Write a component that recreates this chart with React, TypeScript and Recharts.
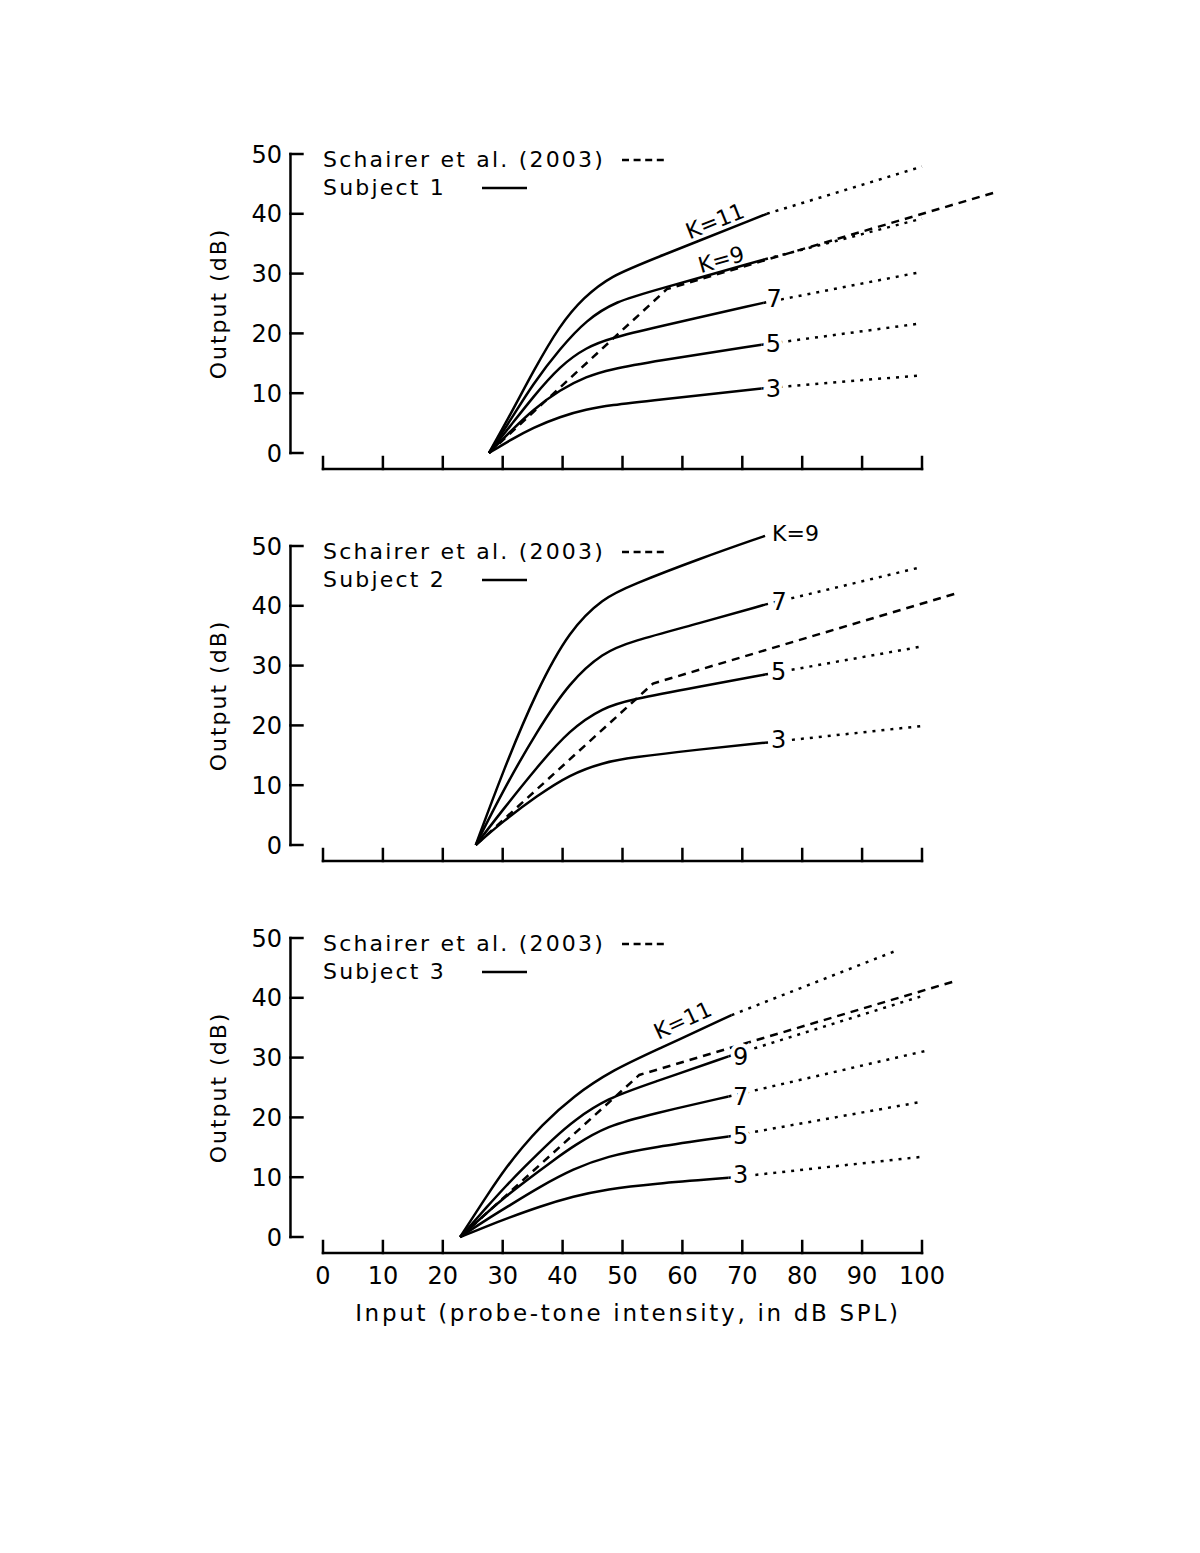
import React from "react";
import { LineChart, Line, XAxis, YAxis, ReferenceLine, Legend } from "recharts";

type Pair = [number, number];

// axis ticks
const xTicks = [0, 10, 20, 30, 40, 50, 60, 70, 80, 90, 100];
const yTicks = [0, 10, 20, 30, 40, 50];

const subjects = ["Subject 1", "Subject 2", "Subject 3"];

// Subject 1 ([input dB SPL, output dB])
const s1Schairer: Pair[] = [[27.7, 0], [57.4, 27.4], [111.9, 43.5]];
const s1K11: Pair[] = [[27.7, 0], [31.5, 6.8], [35, 13.5], [39.6, 21.5], [43.5, 26], [48, 29.6], [55, 32.4], [74.1, 40]];
const s1K11Ext: Pair[] = [[74.1, 40], [100, 47.9]];
const s1K9: Pair[] = [[27.7, 0], [31.5, 5.8], [35, 11.5], [39.6, 17.5], [44, 22.3], [49, 25.4], [55, 27.1], [73.8, 32.4]];
const s1K9Ext: Pair[] = [[73.8, 32.4], [100, 39.2]];
const s1K7: Pair[] = [[27.7, 0], [31.5, 4.8], [35, 9.3], [39.6, 14.6], [44, 17.7], [48, 19.2], [55, 20.9], [73.5, 25.1]];
const s1K7Ext: Pair[] = [[73.5, 25.1], [100, 30.3]];
const s1K5: Pair[] = [[27.7, 0], [31.5, 3.8], [35, 7.2], [39.6, 10.6], [44, 12.8], [48, 14], [55, 15.3], [73.2, 18.1]];
const s1K5Ext: Pair[] = [[73.2, 18.1], [100, 21.7]];
const s1K3: Pair[] = [[27.7, 0], [31.5, 2.3], [35, 4.2], [39.6, 6.1], [44, 7.3], [48, 8], [55, 8.8], [73.2, 10.8]];
const s1K3Ext: Pair[] = [[73.2, 10.8], [100, 13]];

// Subject 2
const s2Schairer: Pair[] = [[25.5, 0], [55.1, 27], [105.8, 42.1]];
const s2K9: Pair[] = [[25.5, 0], [30.1, 12.5], [35.7, 25.9], [41.2, 36], [46.8, 41.3], [51.3, 43.4], [62.9, 47.9], [73.8, 51.7]];
const s2K7: Pair[] = [[25.5, 0], [30.1, 9.2], [35.7, 19], [41.2, 27.3], [46.8, 32.2], [51.3, 34], [62.9, 37.1], [73.8, 40.2]];
const s2K7Ext: Pair[] = [[73.8, 40.2], [100, 46.5]];
const s2K5: Pair[] = [[25.5, 0], [30.1, 6], [35.7, 13], [41.2, 19.3], [46.8, 23], [51.3, 24.3], [62.9, 26.5], [73.8, 28.5]];
const s2K5Ext: Pair[] = [[73.8, 28.5], [100, 33.2]];
const s2K3: Pair[] = [[25.5, 0], [30.1, 4], [35.7, 8.2], [41.2, 11.8], [46.8, 13.8], [51.3, 14.6], [62.9, 16], [73.8, 17.1]];
const s2K3Ext: Pair[] = [[73.8, 17.1], [100, 19.9]];

// Subject 3
const s3Schairer: Pair[] = [[22.9, 0], [52.8, 27.1], [105.2, 42.7]];
const s3K11: Pair[] = [[22.9, 0], [27.6, 7.3], [30.7, 11.8], [33.2, 14.9], [36.2, 18.4], [41.8, 23.6], [48.5, 28], [55.7, 31.3], [68.2, 37.1]];
const s3K11Ext: Pair[] = [[68.2, 37.1], [96, 48]];
const s3K9: Pair[] = [[22.9, 0], [27.6, 5.3], [30.7, 8.7], [33.2, 11.3], [38.7, 16.7], [41.8, 19.4], [47.4, 23.2], [55, 25.8], [67.7, 30.2]];
const s3K9Ext: Pair[] = [[67.7, 30.2], [99.7, 40.2]];
const s3K7: Pair[] = [[22.9, 0], [27.6, 4.3], [30.7, 6.9], [33.2, 8.9], [38.7, 13], [41.8, 15.2], [47.4, 18.6], [55, 20.6], [67.7, 23.5]];
const s3K7Ext: Pair[] = [[67.7, 23.5], [100.5, 31.1]];
const s3K5: Pair[] = [[22.9, 0], [27.6, 3.1], [30.7, 5], [36.2, 8.4], [41.8, 11.4], [47.4, 13.5], [55, 15], [67.7, 16.8]];
const s3K5Ext: Pair[] = [[67.7, 16.8], [99.9, 22.6]];
const s3K3: Pair[] = [[22.9, 0], [27.6, 1.9], [30.7, 3.1], [36.2, 5.1], [41.8, 6.8], [47.4, 8], [55, 8.9], [67.7, 9.9]];
const s3K3Ext: Pair[] = [[67.7, 9.9], [99.9, 13.4]];

interface Curve { k: string; solid: Pair[]; ext?: Pair[] }

const panels: { subject: string; schairer: Pair[]; curves: Curve[] }[] = [
    {
        subject: subjects[0], schairer: s1Schairer, curves: [
            { k: "K=11", solid: s1K11, ext: s1K11Ext },
            { k: "K=9", solid: s1K9, ext: s1K9Ext },
            { k: "7", solid: s1K7, ext: s1K7Ext },
            { k: "5", solid: s1K5, ext: s1K5Ext },
            { k: "3", solid: s1K3, ext: s1K3Ext },
        ]
    },
    {
        subject: subjects[1], schairer: s2Schairer, curves: [
            { k: "K=9", solid: s2K9 },
            { k: "7", solid: s2K7, ext: s2K7Ext },
            { k: "5", solid: s2K5, ext: s2K5Ext },
            { k: "3", solid: s2K3, ext: s2K3Ext },
        ]
    },
    {
        subject: subjects[2], schairer: s3Schairer, curves: [
            { k: "K=11", solid: s3K11, ext: s3K11Ext },
            { k: "9", solid: s3K9, ext: s3K9Ext },
            { k: "7", solid: s3K7, ext: s3K7Ext },
            { k: "5", solid: s3K5, ext: s3K5Ext },
            { k: "3", solid: s3K3, ext: s3K3Ext },
        ]
    },
];

// where each curve's K label sits, relative to the end of the solid part
interface LabelSpot { dx: number; dy: number; angle: number; size: number; anchor?: "middle" | "start"; onExt: boolean }
const labelSpots: LabelSpot[][] = [
    [
        { dx: -52, dy: 7, angle: -21.7, size: 22, onExt: false },
        { dx: -44, dy: 0, angle: -15.7, size: 22, onExt: false },
        { dx: 11, dy: -5, angle: 0, size: 24, onExt: true },
        { dx: 12, dy: -1.5, angle: 0, size: 24, onExt: true },
        { dx: 12, dy: 0, angle: 0, size: 24, onExt: true },
    ],
    [
        { dx: 7, dy: -3, angle: 0, size: 22, anchor: "start", onExt: false },
        { dx: 14, dy: -3, angle: 0, size: 24, onExt: true },
        { dx: 13.5, dy: -3, angle: 0, size: 24, onExt: true },
        { dx: 13.5, dy: -3, angle: 0, size: 24, onExt: true },
    ],
    [
        { dx: -49, dy: 5, angle: -24.7, size: 22, onExt: false },
        { dx: 12, dy: 0, angle: 0, size: 24, onExt: true },
        { dx: 12, dy: 0, angle: 0, size: 24, onExt: true },
        { dx: 12, dy: -1.5, angle: 0, size: 24, onExt: true },
        { dx: 12, dy: -3.5, angle: 0, size: 24, onExt: true },
    ],
];

// layout
const FONT = '"DejaVu Sans", sans-serif';
const PX = 5.99; // pixels per input dB
const PY = 5.98; // pixels per output dB
const X0 = 323; // pixel of input 0
const ZERO_Y = 453; // pixel of output 0 inside each chart
const X_MIN = -6, X_MAX = 113, Y_MIN = -3, Y_MAX = 55;
const Y_AXIS_AT = -5.43, X_AXIS_AT = -2.67;
const Y_AXIS_W = 80;
const PLOT_LEFT = X0 + X_MIN * PX;
const PLOT_TOP = ZERO_Y - Y_MAX * PY;
const PLOT_W = (X_MAX - X_MIN) * PX;
const PLOT_H = (Y_MAX - Y_MIN) * PY;
const PANEL_STEP = 392;

const toPts = (a: Pair[]) => a.map(([x, y]) => ({ x, y }));

const axisStyle = { stroke: "#000", strokeWidth: 2.5, strokeLinecap: "square" as const, ifOverflow: "visible" as const };

function YTick(props: any) {
    const { x, y, payload } = props;
    return (
        <text x={x - 5} y={y} dy={8.5} textAnchor="end" fontFamily={FONT} fontSize={24} fill="#000">
            {payload.value}
        </text>
    );
}

function XTick(props: any) {
    const { x, y, payload } = props;
    return (
        <text x={x} y={y} dy={29} textAnchor="middle" fontFamily={FONT} fontSize={24} fill="#000">
            {payload.value}
        </text>
    );
}

function LegendBox({ subject }: { subject: string }) {
    const row = { position: "absolute" as const, left: 0, lineHeight: "30px", whiteSpace: "nowrap" as const };
    return (
        <div style={{ position: "relative", width: 420, height: 60, fontFamily: FONT, fontSize: 22, letterSpacing: 2.2, color: "#000" }}>
            <div style={{ ...row, top: 0 }}>Schairer et al. (2003)</div>
            <svg style={{ position: "absolute", left: 299, top: 0 }} width={46} height={30}>
                <line x1={0} y1={15} x2={42} y2={15} stroke="#000" strokeWidth={2.5} strokeDasharray="7 4.6" />
            </svg>
            <div style={{ ...row, top: 28 }}>{subject}</div>
            <svg style={{ position: "absolute", left: 159, top: 28 }} width={48} height={30}>
                <line x1={0} y1={15} x2={45} y2={15} stroke="#000" strokeWidth={2.5} />
            </svg>
        </div>
    );
}

const makeDot = (text: string, spot: LabelSpot | undefined, atIndex: number) => (props: any) => {
    const { cx, cy, index } = props;
    if (!spot || index !== atIndex || cx == null) return <g key={`d${index}`} />;
    const halo = spot.onExt;
    return (
        <g key={`d${index}`} transform={`translate(${cx + spot.dx},${cy + spot.dy}) rotate(${spot.angle})`}>
            <text
                x={0}
                y={0}
                dy="0.36em"
                textAnchor={spot.anchor ?? "middle"}
                fontFamily={FONT}
                fontSize={spot.size}
                fill="#000"
                stroke={halo ? "#fff" : "none"}
                strokeWidth={halo ? 8 : 0}
                paintOrder="stroke"
            >
                {text}
            </text>
        </g>
    );
};

function Panel({ idx }: { idx: number }) {
    const p = panels[idx];
    const spots = labelSpots[idx];
    const isLast = idx === panels.length - 1;
    const xAxisH = isLast ? 90 : 30;
    const height = Math.ceil(PLOT_TOP + PLOT_H + xAxisH + 1);
    const margin = {
        top: PLOT_TOP,
        left: PLOT_LEFT - Y_AXIS_W,
        right: 1200 - PLOT_LEFT - PLOT_W,
        bottom: height - PLOT_TOP - PLOT_H - xAxisH,
    };

    return (
        <LineChart width={1200} height={height} margin={margin}>
            <XAxis
                type="number"
                dataKey="x"
                domain={[X_MIN, X_MAX]}
                ticks={xTicks}
                allowDataOverflow
                interval={0}
                axisLine={false}
                tickLine={false}
                tickSize={0}
                tickMargin={0}
                height={xAxisH}
                tick={isLast ? (t: any) => <XTick {...t} /> : false}
                label={isLast ? {
                    content: (lp: any) => (
                        <text
                            x={X0 + 50.9 * PX}
                            y={(lp.viewBox?.y ?? PLOT_TOP + PLOT_H) + 66}
                            textAnchor="middle"
                            fontFamily={FONT}
                            fontSize={23}
                            letterSpacing={2.7}
                            fill="#000"
                        >
                            Input (probe-tone intensity, in dB SPL)
                        </text>
                    ),
                } : undefined}
            />
            <YAxis
                type="number"
                domain={[Y_MIN, Y_MAX]}
                ticks={yTicks}
                allowDataOverflow
                interval={0}
                axisLine={false}
                tickLine={false}
                tickSize={0}
                tickMargin={0}
                width={Y_AXIS_W}
                tick={(t: any) => <YTick {...t} />}
                label={{
                    content: () => (
                        <text
                            transform={`translate(226,${ZERO_Y - 25 * PY}) rotate(-90)`}
                            textAnchor="middle"
                            fontFamily={FONT}
                            fontSize={22}
                            letterSpacing={2}
                            fill="#000"
                        >
                            Output (dB)
                        </text>
                    ),
                }}
            />
            <Legend
                layout="horizontal"
                verticalAlign="middle"
                align="center"
                content={() => <LegendBox subject={p.subject} />}
                wrapperStyle={{ left: 323, top: 145, width: 420, height: 60 }}
            />

            {/* axes drawn as segments so they stop at 0..100 and 0..50 */}
            <ReferenceLine segment={[{ x: Y_AXIS_AT, y: 0 }, { x: Y_AXIS_AT, y: 50 }]} {...axisStyle} />
            {yTicks.map((v) => (
                <ReferenceLine key={`yt${v}`} segment={[{ x: Y_AXIS_AT, y: v }, { x: Y_AXIS_AT + 2, y: v }]} {...axisStyle} />
            ))}
            <ReferenceLine segment={[{ x: 0, y: X_AXIS_AT }, { x: 100, y: X_AXIS_AT }]} {...axisStyle} />
            {xTicks.map((v) => (
                <ReferenceLine key={`xt${v}`} segment={[{ x: v, y: X_AXIS_AT }, { x: v, y: X_AXIS_AT + 2 }]} {...axisStyle} />
            ))}

            <Line
                data={toPts(p.schairer)}
                dataKey="y"
                name="Schairer et al. (2003)"
                type="linear"
                stroke="#000"
                strokeWidth={2.5}
                strokeDasharray="8 6"
                dot={false}
                activeDot={false}
                isAnimationActive={false}
            />
            {p.curves.map((c, i) => (
                <Line
                    key={`s${c.k}`}
                    data={toPts(c.solid)}
                    dataKey="y"
                    name={c.k}
                    type="basis"
                    stroke="#000"
                    strokeWidth={2.5}
                    dot={spots[i].onExt ? false : makeDot(c.k, spots[i], c.solid.length - 1)}
                    activeDot={false}
                    isAnimationActive={false}
                />
            ))}
            {p.curves.filter((c) => c.ext).map((c) => {
                const i = p.curves.indexOf(c);
                return (
                    <Line
                        key={`e${c.k}`}
                        data={toPts(c.ext as Pair[])}
                        dataKey="y"
                        name={`${c.k} ext`}
                        type="linear"
                        stroke="#000"
                        strokeWidth={2.5}
                        strokeDasharray="3 6"
                        dot={spots[i].onExt ? makeDot(c.k, spots[i], 0) : false}
                        activeDot={false}
                        isAnimationActive={false}
                    />
                );
            })}
        </LineChart>
    );
}

export default function App() {
    return (
        <div style={{ position: "absolute", left: 0, top: 0, width: 1200, height: 1553, background: "#fff", overflow: "hidden" }}>
            {panels.map((_, i) => (
                <div key={i} style={{ position: "absolute", left: 0, top: i * PANEL_STEP }}>
                    <Panel idx={i} />
                </div>
            ))}
        </div>
    );
}
